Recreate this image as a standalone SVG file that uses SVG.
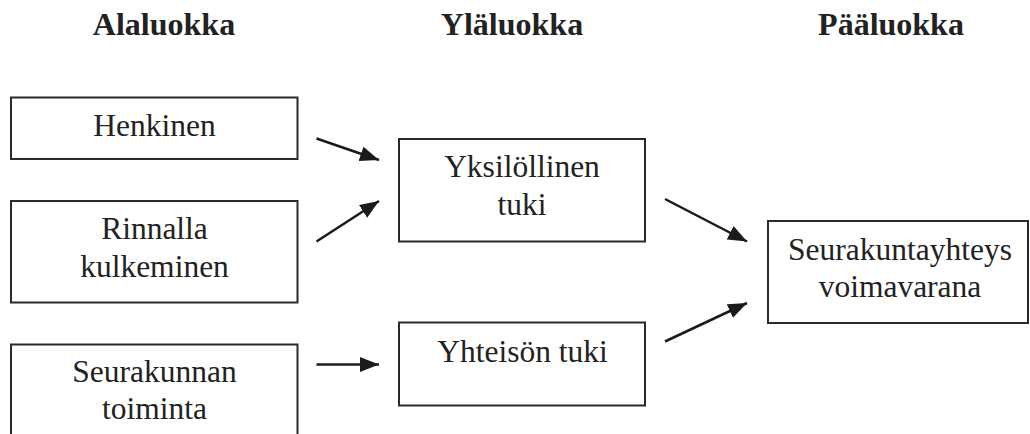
<svg xmlns="http://www.w3.org/2000/svg" width="1030" height="434" viewBox="0 0 1030 434">
<style>
.box{fill:#fff;stroke:#2a2a2a;stroke-width:2}
.t{font-family:"Liberation Serif","Times New Roman",serif;font-size:31.5px;fill:#222;text-anchor:middle}
.h{font-family:"Liberation Serif","Times New Roman",serif;font-size:32px;font-weight:bold;fill:#222;text-anchor:middle}
.c{stroke:#1a1a1a;stroke-width:2.5;fill:none;marker-end:url(#ah)}
</style>
<defs>
<marker id="ah" markerUnits="userSpaceOnUse" markerWidth="20" markerHeight="16" refX="19" refY="7.5" orient="auto">
<path d="M0,0 L19,7.5 L0,15 z" fill="#1a1a1a"/>
</marker>
<clipPath id="clip1"><rect x="12" y="98" width="285" height="60"/></clipPath>
</defs>
<rect width="1030" height="434" fill="#fff"/>
<g id="headers">
<text class="h" x="164" y="35">Alaluokka</text>
<text class="h" x="512" y="35">Yläluokka</text>
<text class="h" x="891" y="35">Pääluokka</text>
</g>
<g id="node-henkinen">
<rect class="box" x="11" y="97.5" width="286.5" height="61.5"/>
<text class="t" x="154.5" y="135.5">Henkinen</text>
</g>
<g id="node-rinnalla">
<rect class="box" x="11" y="201" width="286.5" height="101.5"/>
<text class="t" x="154.5" y="238.5">Rinnalla</text>
<text class="t" x="154.5" y="276.5">kulkeminen</text>
</g>
<g id="node-seurakunnan">
<rect class="box" x="11" y="344.5" width="286.5" height="100"/>
<text class="t" x="154.5" y="381.5">Seurakunnan</text>
<text class="t" x="154.5" y="418.5">toiminta</text>
</g>
<g id="node-yksilollinen">
<rect class="box" x="399" y="139" width="246" height="102.5"/>
<text class="t" x="522" y="177">Yksilöllinen</text>
<text class="t" x="522" y="215">tuki</text>
</g>
<g id="node-yhteison">
<rect class="box" x="399" y="322.5" width="246" height="83"/>
<text class="t" x="522.5" y="361.5">Yhteisön tuki</text>
</g>
<g id="node-seurakuntayhteys">
<rect class="box" x="768" y="221" width="260" height="102"/>
<text class="t" x="900" y="260">Seurakuntayhteys</text>
<text class="t" x="900" y="296.5">voimavarana</text>
</g>
<g id="connectors">
<line class="c" x1="316.5" y1="138.5" x2="379" y2="160"/>
<line class="c" x1="316.5" y1="241.5" x2="379" y2="201"/>
<line class="c" x1="316.5" y1="364.5" x2="379" y2="364.5"/>
<line class="c" x1="665" y1="199" x2="747" y2="241.5"/>
<line class="c" x1="665" y1="341.5" x2="747" y2="303"/>
</g>
</svg>
